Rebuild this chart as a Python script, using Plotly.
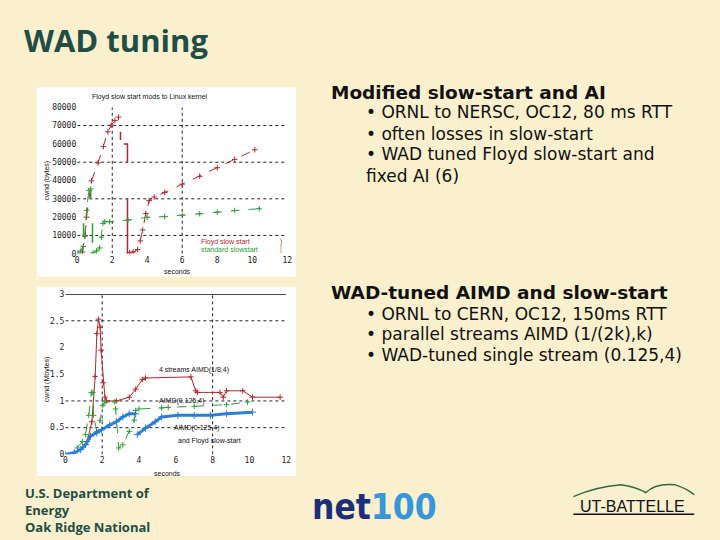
import plotly.graph_objects as go

# ---------------- data: chart 1 (cwnd in bytes vs seconds) ----------------
floyd_x1 = [0.3, 0.45, 0.53, 0.81, 1.19, 1.5, 1.75, 1.94, 2.15, 2.36]
floyd_y1 = [1000, 10000, 20000, 39800, 49600, 58500, 66600, 70200, 72800, 74600]
floyd_x2 = [2.98, 3.2, 3.45, 3.6, 3.74, 3.92, 4.11, 4.4, 5.0, 6.0, 7.0, 8.0, 9.0, 10.15]
floyd_y2 = [500, 1000, 2300, 7000, 13000, 22000, 29000, 31000, 33500, 38000, 42300, 47000, 51500, 56800]
floyd_loss_x = [2.47, 2.47, None, 2.66, 2.87, 2.87, None, 2.87, 2.87]
floyd_loss_y = [62100, 66600, None, 60000, 60000, 50000, None, 30000, 0]

std_x1 = [0, 0.2, 0.34, 0.43, 0.53, 0.66, 0.77]
std_y1 = [500, 1500, 4000, 9500, 23700, 34500, 35400]
std_x2 = [0.9, 1.1, 1.28, 1.38, 1.47, 1.57, 1.85, 2.9, 4.0, 5.0, 6.0, 7.0, 8.0, 9.0, 10.4]
std_y2 = [500, 1500, 3200, 9000, 16600, 17500, 17500, 18400, 19900, 20300, 21000, 21800, 22700, 23600, 24600]
std_loss_x = [0.36, 0.36, None, 0.87, 0.87, None, 0.77, 0.77]
std_loss_y = [9500, 16600, None, 6000, 16600, None, 30000, 35400]

c1_xticks = [0, 2, 4, 6, 8, 10, 12]
c1_yticks = [0, 10000, 20000, 30000, 40000, 50000, 60000, 70000, 80000]

# ---------------- data: chart 2 (cwnd in Mbytes vs seconds) ----------------
par_x = [1.18, 1.44, 1.62, 1.71, 1.8, 1.89, 1.94, 2.06, 2.15, 2.24, 2.77, 3.47, 3.82, 4.18, 4.35,
         6.82, 7.08, 7.17, 8.4, 8.58, 8.76, 9.64, 10.17, 11.67]
par_y = [0.24, 0.61, 1.46, 2.26, 2.53, 2.38, 1.95, 1.34, 1.07, 1.0, 1.0, 1.07, 1.22, 1.4, 1.43,
         1.45, 1.19, 1.16, 1.16, 1.07, 1.19, 1.19, 1.07, 1.07]

single_x = [0.65, 0.92, 1.09, 1.27, 1.41, 1.5, 1.53, 1.71, 1.89, 2.03, 2.15, 2.68, 2.73, 2.9,
            3.12, 3.47, 3.74, 3.82, 4.0, 5.23, 5.59, 7.0, 8.76, 9.9]
single_y = [0.12, 0.24, 0.37, 0.73, 1.16, 1.16, 0.73, 0.43, 0.64, 0.91, 0.98, 0.98, 0.85, 0.12,
            0.18, 0.43, 0.64, 0.82, 0.85, 0.87, 0.88, 0.9, 0.93, 0.98]

floyd2_x = [0, 0.48, 0.83, 1.09, 1.36, 1.71, 1.97, 2.41, 2.77, 3.12, 3.47, 3.82, None,
            3.91, 4.35, 4.88, 5.23, 6.11, 7.0, 7.88, 8.76, 10.17]
floyd2_y = [0, 0.03, 0.09, 0.18, 0.34, 0.4, 0.46, 0.55, 0.61, 0.7, 0.76, 0.76, None,
            0.37, 0.49, 0.61, 0.7, 0.73, 0.73, 0.73, 0.76, 0.79]

c2_xticks = [0, 2, 4, 6, 8, 10, 12]
c2_yticks = [0, 0.5, 1, 1.5, 2, 2.5, 3]

# ---------------- colours / fonts ----------------
BG = "#FAF0CD"
RED = "#B3262B"
GREEN = "#2E9E35"
BLUE = "#2B7FD4"
DARKGREEN = "#1E4E45"
MONO = "DejaVu Sans Mono"
SMALL = "Liberation Sans"
BODY = "DejaVu Sans"

W, H = 720, 540
def px(x):
    return x / W
def py(y):
    return 1 - y / H

fig = go.Figure()

def line_trace(x, y, color, xa, ya, dash="solid", width=1, marker=True, msize=4):
    return go.Scatter(
        x=x, y=y, xaxis=xa, yaxis=ya,
        mode="lines+markers" if marker else "lines",
        line=dict(color=color, width=width, dash=dash),
        marker=dict(symbol="cross-thin-open", size=msize, color=color,
                    line=dict(color=color, width=1)),
        hoverinfo="skip", connectgaps=False,
    )

# chart 1
fig.add_trace(line_trace(floyd_x1, floyd_y1, RED, "x", "y", dash="dash"))
fig.add_trace(line_trace(floyd_x2, floyd_y2, RED, "x", "y", dash="dash"))
fig.add_trace(line_trace(floyd_loss_x, floyd_loss_y, RED, "x", "y", width=1.5, marker=False))
fig.add_trace(line_trace(std_x1, std_y1, GREEN, "x", "y", dash="dash"))
fig.add_trace(line_trace(std_x2, std_y2, GREEN, "x", "y", dash="dash"))
fig.add_trace(line_trace(std_loss_x, std_loss_y, GREEN, "x", "y", width=1.5, marker=False))

# chart 2
fig.add_trace(line_trace(par_x, par_y, RED, "x2", "y2", width=1))
fig.add_trace(line_trace(single_x, single_y, GREEN, "x2", "y2", dash="dash", width=1))
fig.add_trace(line_trace(floyd2_x, floyd2_y, BLUE, "x2", "y2", width=3, msize=5))

tickfont = dict(family=MONO, size=8, color="#222")
common_ax = dict(showgrid=False, zeroline=False, showline=False, ticks="",
                 tickfont=tickfont, fixedrange=True)

fig.update_layout(
    width=W, height=H, margin=dict(l=0, r=0, t=0, b=0),
    paper_bgcolor=BG, plot_bgcolor="rgba(0,0,0,0)", showlegend=False,
    xaxis=dict(domain=[px(76), px(288)], anchor="y", range=[0, 12],
               tickvals=c1_xticks, ticktext=[str(v) for v in c1_xticks], **common_ax),
    yaxis=dict(domain=[py(254), py(105)], anchor="x", range=[0, 80000],
               tickvals=c1_yticks, ticktext=[str(v) for v in c1_yticks], **common_ax),
    xaxis2=dict(domain=[px(64), px(287)], anchor="y2", range=[0, 12],
                tickvals=c2_xticks, ticktext=[str(v) for v in c2_xticks], **common_ax),
    yaxis2=dict(domain=[py(458), py(295)], anchor="x2", range=[0, 3],
                tickvals=c2_yticks, ticktext=[("%g" % v) for v in c2_yticks], **common_ax),
)

shapes = []
# white chart panels
for (x0, y0, x1, y1) in [(35, 85, 297, 277), (35, 288, 297, 480)]:
    shapes.append(dict(type="rect", xref="paper", yref="paper", layer="below",
                       x0=px(x0), x1=px(x1), y0=py(y1), y1=py(y0),
                       fillcolor="#FFFFFF", line=dict(width=0)))
dot = dict(color="#222", width=1, dash="dot")
# chart 1 grid
for gy in [10000, 30000, 50000, 70000]:
    shapes.append(dict(type="line", xref="x", yref="y", x0=0, x1=12, y0=gy, y1=gy, line=dot, layer="below"))
for gx in [2, 6]:
    shapes.append(dict(type="line", xref="x", yref="y", x0=gx, x1=gx, y0=0, y1=80000, line=dot, layer="below"))
# chart 2 grid
for gy in [0.5, 1, 2.5]:
    shapes.append(dict(type="line", xref="x2", yref="y2", x0=0, x1=12, y0=gy, y1=gy, line=dot, layer="below"))
for gx in [2, 8]:
    shapes.append(dict(type="line", xref="x2", yref="y2", x0=gx, x1=gx, y0=0, y1=3, line=dot, layer="below"))
shapes.append(dict(type="line", xref="x2", yref="y2", x0=0, x1=12, y0=3, y1=3,
                   line=dict(color="#111", width=1.5)))
# UT-Battelle logo lines
shapes.append(dict(type="path", xref="paper", yref="paper",
                   path="M %f %f Q %f %f %f %f Q %f %f %f %f Q %f %f %f %f Q %f %f %f %f" % (
                       px(577), py(501), px(600), py(491), px(625), py(489),
                       px(640), py(491), px(650), py(497),
                       px(660), py(487), px(680), py(489),
                       px(692), py(493), px(699), py(499)),
                   line=dict(color="#2F6B45", width=1.5)))
shapes.append(dict(type="line", xref="paper", yref="paper", x0=px(577), x1=px(699),
                   y0=py(519), y1=py(519), line=dict(color="#111", width=1.5)))
fig.update_layout(shapes=shapes)

ann = []
def text(x, y, s, size, color="#111", family=BODY, xanchor="left", yanchor="middle", angle=0):
    ann.append(dict(x=px(x), y=py(y), xref="paper", yref="paper", text=s, showarrow=False,
                    xanchor=xanchor, yanchor=yanchor, textangle=angle, borderpad=0,
                    align="left", font=dict(size=size, color=color, family=family)))

# slide title
text(21, 37, "<b>WAD tuning</b>", 31, DARKGREEN, "Open Sans")

# chart 1 texts
text(149, 95, "Floyd slow start mods to Linux kernel", 7, "#111", SMALL, "center")
text(177, 272, "seconds", 7, "#111", SMALL, "center")
text(45, 180, "cwnd (bytes)", 7, "#111", SMALL, "center", angle=-90)
text(251, 242, "Floyd slow start", 7, RED, SMALL, "right")
text(260, 249.5, "standard slowstart", 7, GREEN, SMALL, "right")
text(282, 242, ")", 7, RED, SMALL, "center")
text(282, 249.5, "|", 7, GREEN, SMALL, "center")

# chart 2 texts
text(167, 477, "seconds", 7, "#111", SMALL, "center")
text(45, 382, "cwnd (Mbytes)", 7, "#111", SMALL, "center", angle=-90)
text(158, 372, "4 streams AIMD(1/8,4)", 7, "#111", SMALL)
text(158, 404, "AIMD(0.125,4)", 7, "#111", SMALL)
text(173, 431, "AIMD(0.125,4)", 7, "#111", SMALL)
text(177, 444, "and Floyd slow-start", 7, "#111", SMALL)

# right-hand bullet text
text(331, 90, "<b>Modified slow-start and AI</b>", 18.5, "#111", BODY)
text(367, 110, "• ORNL to NERSC, OC12, 80 ms RTT", 17, "#111", BODY)
text(367, 132, "• often losses in slow-start", 17, "#111", BODY)
text(367, 153, "• WAD tuned Floyd slow-start and", 17, "#111", BODY)
text(367, 175, "fixed AI (6)", 17, "#111", BODY)

text(331, 293, "<b>WAD-tuned AIMD and slow-start</b>", 18.5, "#111", BODY)
text(367, 315, "• ORNL to CERN, OC12, 150ms RTT", 17, "#111", BODY)
text(367, 336, "• parallel streams AIMD (1/(2k),k)", 17, "#111", BODY)
text(367, 357, "• WAD-tuned single stream (0.125,4)", 17, "#111", BODY)

# footer (one block, three lines)
text(22, 515, "<b>U.S. Department of<br>Energy<br>Oak Ridge National</b>", 13, DARKGREEN, "Open Sans")

text(312, 512, "<b><span style='color:#1B2E7A'>net</span><span style='color:#3596DA'>100</span></b>",
     35, "#1B2E7A", "DejaVu Sans Condensed")
text(637, 511, "UT-BATTELLE", 16, "#111", "Liberation Sans", "center")

fig.update_layout(annotations=ann)

fig.write_html("out.html", config={"displayModeBar": False},
               post_script="document.body.style.margin='0px';")
